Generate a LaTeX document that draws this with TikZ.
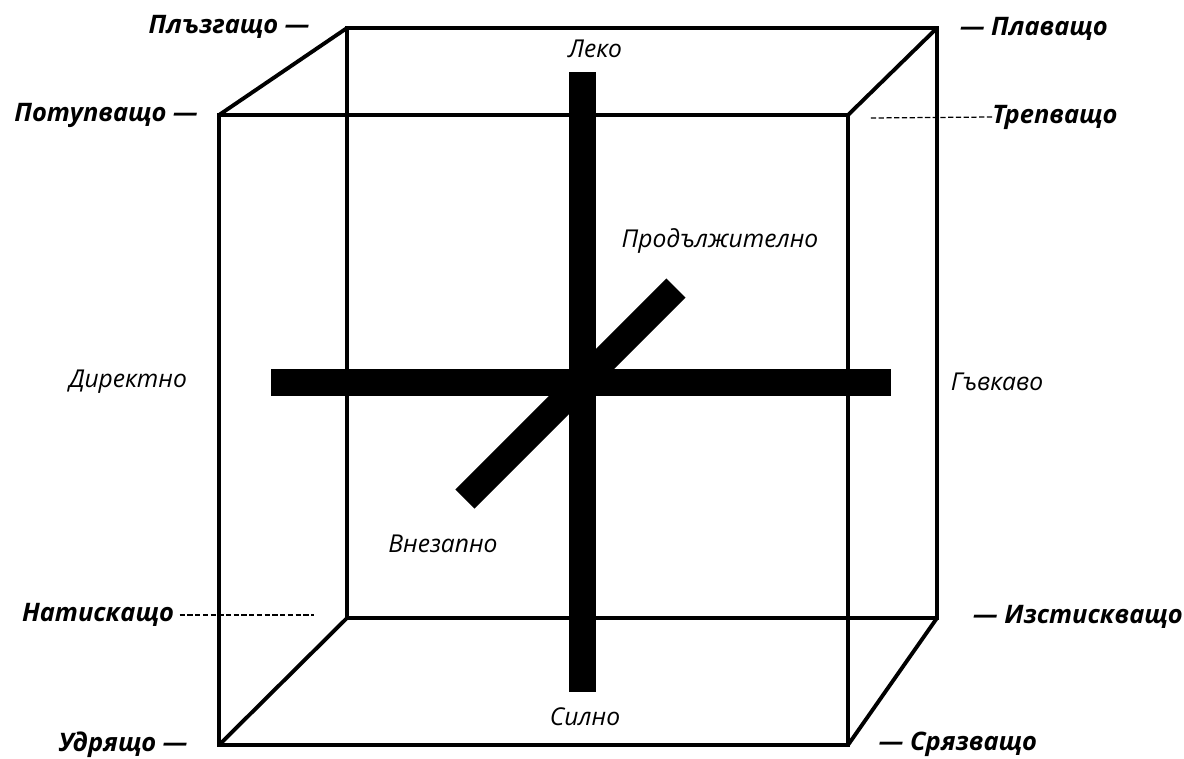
\documentclass[tikz,border=0pt]{standalone}
\usepackage{fontspec}
\setmainfont{Open Sans}
\usepackage{tikz}
\usetikzlibrary{positioning, calc}

\begin{document}
\begin{tikzpicture}[
  x=0.02cm, y=-0.02cm,
  edge/.style={line width=2.2pt, line join=miter},
  bar/.style={line width=0.54cm, line cap=butt},
  axislbl/.style={font=\fontsize{14}{17}\selectfont\itshape, inner sep=0pt},
  effort/.style={font=\fontsize{14.5}{17}\selectfont\bfseries\itshape, inner sep=0pt},
  guide/.style={line width=0.7pt, dash pattern=on 3pt off 1.4pt},
]
\useasboundingbox (0,0) rectangle (1184,758);

%% Cube corners
\coordinate (fTL) at (219,115);  \coordinate (fTR) at (848,115);
\coordinate (fBL) at (219,745);  \coordinate (fBR) at (848,745);
\coordinate (bTL) at (347,28);   \coordinate (bTR) at (937,28);
\coordinate (bBL) at (347,618);  \coordinate (bBR) at (937,618);

%% Cube
\draw[edge] (fTL) rectangle (fBR);
\draw[edge] (bTL) rectangle (bBR);
\draw[edge] (fTL) -- (bTL);
\draw[edge] (fTR) -- (bTR);
\draw[edge] (fBL) -- (bBL);
\draw[edge] (fBR) -- (bBR);

%% Axes
\coordinate (wtTop) at (582,72);   \coordinate (wtBot) at (582,692);
\coordinate (spL)   at (271,382);  \coordinate (spR)   at (891,382);
\coordinate (tmLo)  at (465,499);  \coordinate (tmHi)  at (676,288);
\draw[bar] (wtTop) -- (wtBot);
\draw[bar] (spL) -- (spR);
\draw[bar] (tmLo) -- (tmHi);

%% Axis labels
\node[axislbl] (light)   at (595,49)  {Леко};
\node[axislbl] (strong)  at (585,717) {Силно};
\node[axislbl] (direct)  at (128,382) {Директно};
\node[axislbl] (flex)    at (997,382) {Гъвкаво};
\node[axislbl] (sustain) at (720,241) {Продължително};
\node[axislbl] (sudden)  at (443,544) {Внезапно};

%% Efforts at the corners
\node[effort] (glide) at (229,27)   {Плъзгащо —};
\node[effort] (dab)   at (106,115)  {Потупващо —};
\node[effort] (float) at (1034,29)  {— Плаващо};
\node[effort] (flick) at (1055,117) {Трепващо};
\node[effort] (press) at (98,615)   {Натискащо};
\node[effort] (wring) at (1078,617) {— Изстискващо};
\node[effort] (punch) at (123,745)  {Удрящо —};
\node[effort] (slash) at (958,744)  {— Срязващо};

%% Hidden corners
\coordinate (flickEnd) at (870,118);
\coordinate (pressEnd) at (314,615);
\draw[guide] (flick.west) -- (flickEnd);
\draw[guide] ([xshift=3pt]press.east) -- (pressEnd);

\end{tikzpicture}
\end{document}
